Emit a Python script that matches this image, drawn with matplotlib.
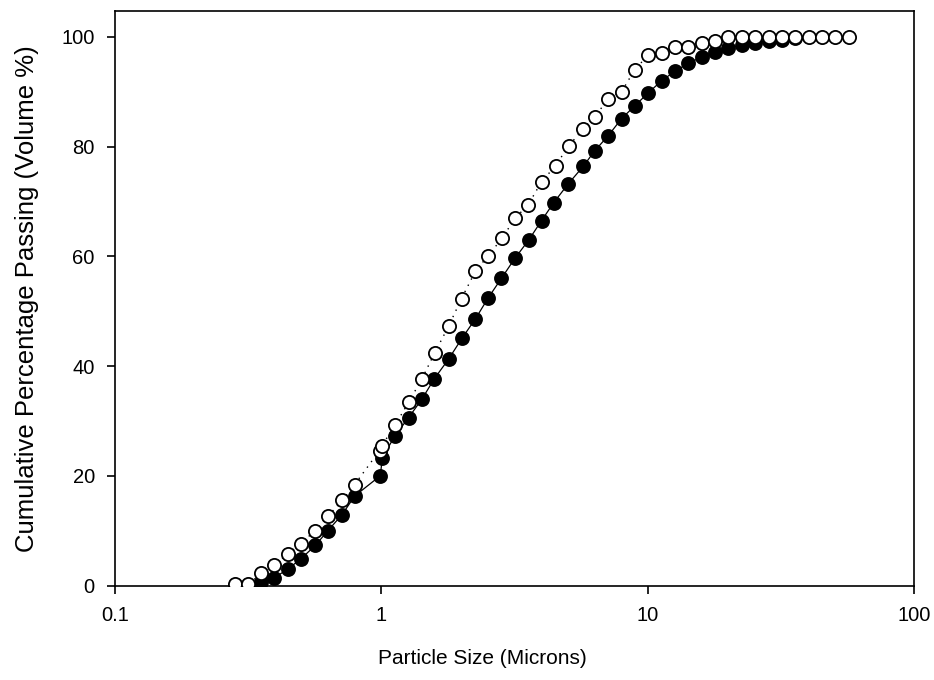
"""Cumulative particle size distribution, two samples on log x axis."""

import matplotlib
matplotlib.use("Agg")
import matplotlib.pyplot as plt
from matplotlib.ticker import FixedLocator, NullLocator

plt.rcParams['font.family'] = ['Liberation Sans', 'DejaVu Sans']

# filled circles, solid line
size_a = [0.354, 0.396, 0.446, 0.500, 0.565, 0.630, 0.712, 0.794, 0.991, 1.009,
          1.122, 1.266, 1.422, 1.582, 1.791, 2.011, 2.256, 2.518, 2.826, 3.171,
          3.580, 3.996, 4.443, 5.033, 5.731, 6.322, 7.117, 7.985, 8.937, 10.06,
          11.29, 12.64, 14.22, 15.96, 17.86, 20.11, 22.56, 25.25, 28.44, 31.90, 35.70]
pass_a = [0.6, 1.4, 3.0, 4.9, 7.3, 10.0, 12.9, 16.3, 20.0, 23.3,
          27.2, 30.6, 34.0, 37.7, 41.3, 45.1, 48.6, 52.4, 56.0, 59.6,
          63.0, 66.5, 69.8, 73.2, 76.4, 79.2, 82.0, 85.1, 87.4, 89.8,
          92.0, 93.7, 95.2, 96.3, 97.3, 97.9, 98.5, 98.9, 99.3, 99.5, 99.8]

# open circles, dotted line
size_b = [0.283, 0.317, 0.354, 0.396, 0.446, 0.500, 0.562, 0.630, 0.712, 0.794,
          0.985, 1.005, 1.129, 1.266, 1.422, 1.586, 1.791, 2.000, 2.256, 2.518,
          2.843, 3.171, 3.561, 3.996, 4.510, 5.047, 5.731, 6.322, 7.117, 7.985,
          8.937, 10.06, 11.29, 12.64, 14.22, 15.96, 17.86, 20.11, 22.56, 25.25,
          28.44, 31.90, 35.70, 40.19, 45.10, 50.47, 56.82]
pass_b = [0.2, 0.2, 2.2, 3.8, 5.8, 7.6, 10.0, 12.6, 15.5, 18.4,
          24.6, 25.5, 29.3, 33.4, 37.7, 42.4, 47.3, 52.3, 57.3, 60.1,
          63.3, 66.9, 69.4, 73.6, 76.5, 80.1, 83.2, 85.4, 88.7, 90.0,
          94.0, 96.7, 97.1, 98.2, 98.2, 98.9, 99.3, 99.9, 100, 100,
          100, 100, 100, 100, 100, 100, 100]

x_ticks = [0.1, 1, 10, 100]
x_labels = ["0.1", "1", "10", "100"]
y_ticks = [0, 20, 40, 60, 80, 100]

fig = plt.figure(figsize=(9.34, 6.8), dpi=100)
ax = fig.add_axes([115/934, 1 - 585.5/680, 799/934, 574.5/680])

ax.plot(size_a, pass_a, color='black', lw=0.9, ls='-',
        marker='o', ms=9.5, mfc='black', mec='black', mew=1.2, zorder=3)
ax.plot(size_b, pass_b, color='black', lw=1.0, ls=(0, (1, 4)),
        marker='o', ms=9.5, mfc='white', mec='black', mew=1.3, zorder=4)

ax.set_xscale('log')
ax.set_xlim(0.1, 100)
ax.set_ylim(0, 104.7)
ax.xaxis.set_major_locator(FixedLocator(x_ticks))
ax.xaxis.set_minor_locator(NullLocator())
ax.set_xticklabels(x_labels)
ax.set_yticks(y_ticks)
ax.tick_params(direction='out', length=5.5, width=1.2, labelsize=14.5,
               colors='black', top=False, right=False, pad=9)
for s in ax.spines.values():
    s.set_linewidth(1.2)

ax.set_xlabel("Particle Size (Microns)", fontsize=15)
ax.xaxis.set_label_coords(0.46, -0.11)
ax.set_ylabel("Cumulative Percentage Passing (Volume %)", fontsize=18.5)
ax.yaxis.set_label_coords(-0.095, 0.5)

fig.savefig("out.png", dpi=100)
